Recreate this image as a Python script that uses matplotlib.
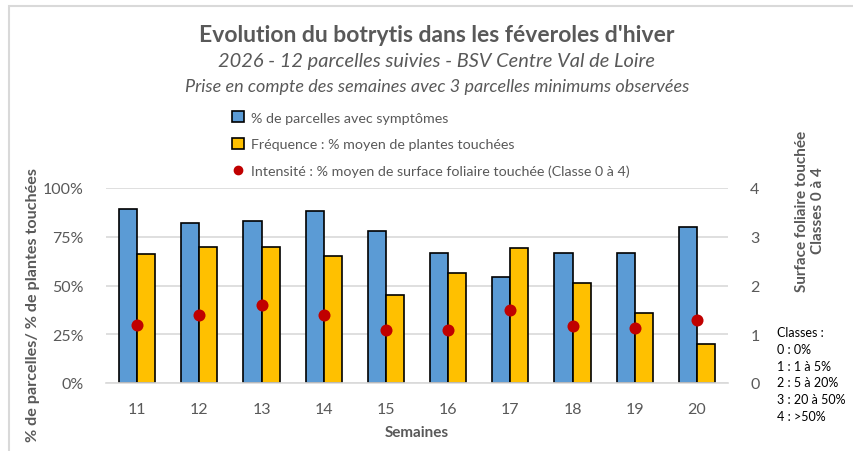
import matplotlib
matplotlib.use("Agg")
import matplotlib.pyplot as plt
import numpy as np
from matplotlib.patches import Rectangle, Patch
from matplotlib.lines import Line2D

plt.rcParams['font.family'] = ['Lato', 'DejaVu Sans']

weeks = ["11", "12", "13", "14", "15", "16", "17", "18", "19", "20"]
pct_parcelles = [0.89, 0.82, 0.83, 0.88, 0.78, 0.667, 0.545, 0.667, 0.667, 0.80]
frequence = [0.66, 0.695, 0.70, 0.65, 0.45, 0.565, 0.69, 0.515, 0.36, 0.20]
intensite = [1.19, 1.40, 1.59, 1.40, 1.08, 1.08, 1.50, 1.16, 1.12, 1.29]

lbl_blue = "% de parcelles avec symptômes"
lbl_yel = "Fréquence : % moyen de plantes touchées"
lbl_red = "Intensité : % moyen de surface foliaire touchée (Classe 0 à 4)"
classes_txt = ["Classes :", "0 : 0%", "1 : 1 à 5%", "2 : 5 à 20%", "3 : 20 à 50%", "4 : >50%"]

W, H = 854, 452
fig = plt.figure(figsize=(W / 100, H / 100), dpi=100)
grey = "#595959"
blue = "#5B9BD5"
yellow = "#FFC000"
red = "#C00000"

# border
fig.patches.append(Rectangle((8.5 / W, -0.1), 2, 1 - 6.5 / H + 0.1, transform=fig.transFigure,
                             fill=False, edgecolor="#D9D9D9", linewidth=1.5))

ax = fig.add_axes([106 / W, 1 - 384 / H, (728 - 106) / W, (384 - 189) / H])
x = np.arange(len(weeks))
bw = 0.29
ax.bar(x - bw / 2, pct_parcelles, bw, color=blue, edgecolor="black", linewidth=1.2, zorder=2)
ax.bar(x + bw / 2, frequence, bw, color=yellow, edgecolor="black", linewidth=1.2, zorder=2)
ax.set_ylim(0, 1)
ax.set_xlim(-0.5, len(weeks) - 0.5)
ax.set_yticks([0, 0.25, 0.5, 0.75, 1.0])
ax.set_yticklabels(["0%", "25%", "50%", "75%", "100%"])
ax.set_xticks(x)
ax.set_xticklabels(weeks)
ax.tick_params(axis="both", length=0, labelsize=11.5, labelcolor=grey)
ax.tick_params(axis="y", pad=16)
ax.tick_params(axis="x", pad=14)
ax.grid(axis="y", color="#D9D9D9", linewidth=1.2, zorder=0)
ax.set_axisbelow(True)
for s in ["top", "right", "left"]:
    ax.spines[s].set_visible(False)
ax.spines["bottom"].set_color("#D9D9D9")
ax.spines["bottom"].set_linewidth(1.2)

ax2 = ax.twinx()
ax2.scatter(x, intensite, s=75, color=red, zorder=5, linewidths=0)
ax2.set_ylim(0, 4)
ax2.set_yticks([0, 1, 2, 3, 4])
ax2.tick_params(axis="y", length=0, labelsize=11.5, labelcolor=grey, pad=16)
for s in ["top", "right", "left", "bottom"]:
    ax2.spines[s].set_visible(False)

ax.set_xlabel("Semaines", fontsize=11, fontweight="bold", color=grey, labelpad=6)
fig.text(33 / W, 1 - 305 / H, "% de parcelles/ % de plantes touchées", rotation=90,
         ha="center", va="center", fontsize=11.6, fontweight="bold", color=grey)
fig.text(810 / W, 1 - 211 / H, "Surface foliaire touchée\nClasses 0 à 4", rotation=90,
         ha="center", va="center", fontsize=11, fontweight="bold", color=grey,
         multialignment="center", linespacing=1.15)

for i, t in enumerate(classes_txt):
    fig.text(777 / W, 1 - (333 + i * 16.8) / H, t, ha="left", va="center", fontsize=9, color="black")

fig.text(437 / W, 1 - 35 / H, "Evolution du botrytis dans les féveroles d'hiver",
         ha="center", va="center", fontsize=16.5, fontweight="bold", color=grey)
fig.text(437 / W, 1 - 62 / H, "2026 - 12 parcelles suivies - BSV Centre Val de Loire",
         ha="center", va="center", fontsize=14.4, style="italic", color=grey)
fig.text(437 / W, 1 - 87 / H, "Prise en compte des semaines avec 3 parcelles minimums observées",
         ha="center", va="center", fontsize=13, style="italic", color=grey)

handles = [Patch(facecolor=blue, edgecolor="black", linewidth=1.2),
           Patch(facecolor=yellow, edgecolor="black", linewidth=1.2),
           Line2D([], [], marker="o", linestyle="none", color=red, markersize=6)]
leg = fig.legend(handles, [lbl_blue, lbl_yel, lbl_red], loc="upper left",
                 bbox_to_anchor=(225 / W, 1 - 105 / H), frameon=False, fontsize=10.3,
                 labelspacing=1.0, handlelength=0.8, handleheight=0.8, handletextpad=0.5,
                 borderpad=0, labelcolor=grey)

fig.savefig("out.png", dpi=100)
